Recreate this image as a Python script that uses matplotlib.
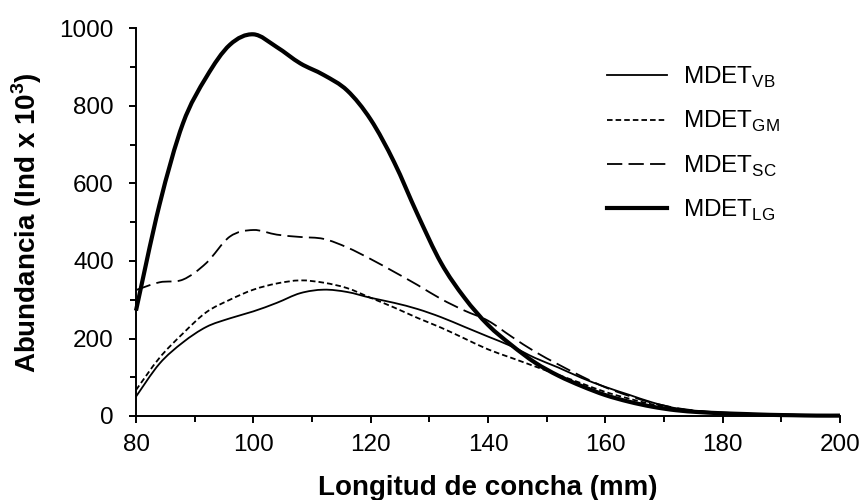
import matplotlib
matplotlib.use("Agg")
import matplotlib.pyplot as plt
import numpy as np
from matplotlib.path import Path
from matplotlib.patches import PathPatch
from matplotlib.lines import Line2D
from matplotlib.ticker import MultipleLocator

plt.rcParams['font.family'] = ['Liberation Sans', 'DejaVu Sans']
plt.rcParams['mathtext.fontset'] = 'custom'
plt.rcParams['mathtext.rm'] = 'Liberation Sans'
plt.rcParams['mathtext.bf'] = 'Liberation Sans:bold'
plt.rcParams['lines.scale_dashes'] = False

# Shell length classes (mm)
longitud = [80, 84, 88, 92, 96, 100, 104, 108, 112, 116, 120, 124, 128, 132, 136,
            140, 144, 148, 152, 156, 160, 164, 168, 172, 176, 180, 184, 188, 192, 196, 200]

# Abundance (Ind x 10^3) by method
mdet_vb = [50, 135, 190, 230, 252, 270, 292, 317, 326, 320, 305, 292, 276, 255, 230,
           205, 180, 150, 125, 98, 75, 55, 35, 20, 12, 8, 5, 4, 3, 2, 1]
mdet_gm = [67, 150, 213, 268, 300, 326, 342, 350, 344, 330, 305, 280, 253, 228, 200,
           172, 150, 128, 106, 84, 62, 45, 30, 19, 12, 8, 5, 3, 2, 1, 1]
mdet_sc = [325, 345, 352, 395, 463, 480, 468, 462, 457, 435, 405, 372, 338, 302, 272,
           246, 205, 166, 133, 102, 74, 52, 34, 21, 13, 9, 6, 4, 3, 2, 1]
mdet_lg = [272, 545, 755, 875, 958, 985, 952, 910, 880, 840, 765, 655, 520, 395, 305,
           235, 183, 138, 104, 77, 54, 37, 24, 15, 10, 7, 5, 3, 2, 1, 1]

series_names = [r'MDET$_{\mathregular{VB}}$', r'MDET$_{\mathregular{GM}}$',
                r'MDET$_{\mathregular{SC}}$', r'MDET$_{\mathregular{LG}}$']
series_values = [mdet_vb, mdet_gm, mdet_sc, mdet_lg]

styles = [
    dict(lw=1.3, ls='-'),
    dict(lw=1.3, ls=(0, (4.0, 2.2))),
    dict(lw=1.3, ls=(0, (11.0, 4.5))),
    dict(lw=3.0, ls='-'),
]


def smooth_path(x, y):
    """Cubic Bezier path through the points (Catmull-Rom style smoothing)."""
    pts = np.column_stack([x, y]).astype(float)
    n = len(pts)
    verts = [pts[0]]
    codes = [Path.MOVETO]
    for i in range(n - 1):
        p0 = pts[i - 1] if i > 0 else pts[i]
        p1 = pts[i]
        p2 = pts[i + 1]
        p3 = pts[i + 2] if i + 2 < n else pts[i + 1]
        c1 = p1 + (p2 - p0) / 6.0
        c2 = p2 - (p3 - p1) / 6.0
        verts += [c1, c2, p2]
        codes += [Path.CURVE4] * 3
    return Path(verts, codes)


fig = plt.figure(figsize=(8.65, 5.0), dpi=100)
ax = fig.add_axes([136 / 865, 1 - 416 / 500, (840 - 136) / 865, (416 - 28.5) / 500])

handles = []
for name, vals, st in zip(series_names, series_values, styles):
    patch = PathPatch(smooth_path(longitud, vals), facecolor='none', edgecolor='black',
                      linewidth=st['lw'], linestyle=st['ls'], capstyle='butt',
                      joinstyle='round', transform=ax.transData, clip_on=False)
    ax.add_patch(patch)
    handles.append(Line2D([], [], color='black', lw=st['lw'], ls=st['ls'], label=name))

ax.set_xlim(80, 200)
ax.set_ylim(0, 1000)
ax.xaxis.set_major_locator(MultipleLocator(20))
ax.xaxis.set_minor_locator(MultipleLocator(10))
ax.yaxis.set_major_locator(MultipleLocator(200))
ax.yaxis.set_minor_locator(MultipleLocator(100))

for side in ('top', 'right'):
    ax.spines[side].set_visible(False)
for side in ('left', 'bottom'):
    ax.spines[side].set_linewidth(1.4)

ax.tick_params(axis='both', which='major', direction='out', length=5, width=1.4,
               labelsize=17.5)
ax.tick_params(axis='both', which='minor', direction='out', length=4.5, width=1.4)
ax.tick_params(axis='y', which='major', pad=11)
ax.tick_params(axis='x', which='major', pad=8)

ax.set_xlabel('Longitud de concha (mm)', fontsize=20, fontweight='bold')
ax.set_ylabel(r'Abundancia (Ind x 10$^{\mathbf{3}}$)', fontsize=20, fontweight='bold')
ax.xaxis.set_label_coords(0.5, (416 - 475) / 387.5)
ax.yaxis.set_label_coords((44 - 136) / 704, 0.5)

leg = fig.legend(handles=handles, loc='upper left',
                 bbox_to_anchor=(607 / 865, 1 - 65 / 500), frameon=False,
                 fontsize=17.5, handlelength=2.47, handletextpad=0.65,
                 labelspacing=0.78, borderpad=0, borderaxespad=0)

fig.savefig('out.png', dpi=100)
